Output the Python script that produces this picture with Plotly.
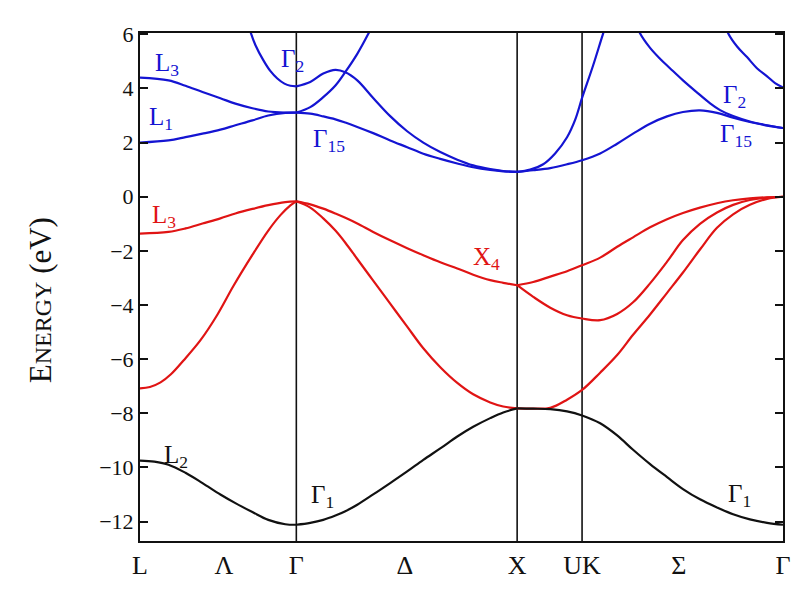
import plotly.graph_objects as go

# ---- high-symmetry points (path coordinate) ----
sym_labels = ["L", "Λ", "Γ", "Δ", "X", "UK", "Σ", "Γ"]
sym_k = [0.0, 0.38, 0.708, 1.20, 1.708, 2.002, 2.44, 2.912]
line_k = [0.708, 1.708, 2.002]   # vertical lines at Γ, X, UK

# ---- segment L -> Γ ----
k_LG = [0.0, 0.129, 0.206, 0.283, 0.364, 0.432, 0.509, 0.581, 0.658, 0.708]
LG_blue_L3 = [4.40, 4.30, 4.10, 3.87, 3.64, 3.44, 3.27, 3.15, 3.11, 3.11]
LG_blue_L1 = [2.00, 2.08, 2.20, 2.33, 2.48, 2.64, 2.82, 3.00, 3.10, 3.11]
LG_red_L3 = [-1.36, -1.30, -1.17, -0.99, -0.80, -0.62, -0.45, -0.31, -0.20, -0.17]

k_LG_L2 = [0.0, 0.065, 0.129, 0.206, 0.283, 0.364, 0.432, 0.509, 0.581, 0.658, 0.708]
LG_black_L2 = [-9.75, -9.79, -9.90, -10.20, -10.58, -11.00, -11.32, -11.65, -11.94, -12.10, -12.12]

k_LG_red_L1 = [0.0, 0.045, 0.093, 0.140, 0.197, 0.274, 0.351, 0.423, 0.509, 0.581, 0.636, 0.681, 0.708]
LG_red_L1 = [-7.08, -7.03, -6.86, -6.56, -6.05, -5.30, -4.35, -3.30, -2.15, -1.25, -0.68, -0.32, -0.17]

k_LG_G2 = [0.486, 0.500, 0.523, 0.559, 0.590, 0.622, 0.654, 0.681, 0.708]
LG_blue_G2 = [6.50, 6.10, 5.60, 5.04, 4.65, 4.37, 4.18, 4.10, 4.08]

# ---- segment Γ -> X ----
k_GX = [0.708, 0.771, 0.830, 0.885, 0.930, 0.984, 1.056, 1.133, 1.210, 1.283,
        1.360, 1.437, 1.509, 1.586, 1.645, 1.708]
GX_blue_G2 = [4.08, 4.24, 4.55, 4.69, 4.60, 4.30, 3.65, 2.98, 2.42, 2.00,
              1.65, 1.37, 1.16, 1.02, 0.95, 0.92]
GX_blue_G15 = [3.11, 3.07, 2.97, 2.86, 2.74, 2.58, 2.35, 2.08, 1.83, 1.59,
               1.40, 1.23, 1.09, 0.99, 0.94, 0.92]
GX_red_top = [-0.17, -0.28, -0.44, -0.62, -0.78, -0.99, -1.30, -1.61, -1.90, -2.16,
              -2.42, -2.65, -2.88, -3.08, -3.18, -3.27]
GX_red_mid = [-0.17, -0.40, -0.80, -1.25, -1.70, -2.30, -3.10, -3.95, -4.80, -5.60,
              -6.30, -6.88, -7.30, -7.60, -7.75, -7.82]
GX_black = [-12.12, -12.05, -11.94, -11.78, -11.62, -11.38, -11.00, -10.58, -10.15, -9.72,
            -9.30, -8.86, -8.50, -8.18, -7.97, -7.82]

k_GX_up = [0.708, 0.771, 0.830, 0.885, 0.930, 0.984, 1.034, 1.066]
GX_blue_up = [3.11, 3.31, 3.68, 4.11, 4.61, 5.28, 6.02, 6.55]

# ---- segment X -> UK -> Γ ----
k_XG = [1.708, 1.781, 1.858, 1.934, 2.002, 2.084, 2.161, 2.233, 2.310, 2.387,
        2.459, 2.536, 2.613, 2.686, 2.762, 2.840, 2.912]
XG_blue_hump = [0.92, 0.98, 1.06, 1.20, 1.35, 1.60, 1.96, 2.33, 2.70, 2.97,
                3.13, 3.19, 3.10, 2.92, 2.76, 2.63, 2.54]
XG_red_1 = [-3.27, -3.15, -2.95, -2.75, -2.53, -2.25, -1.85, -1.50, -1.13, -0.83,
            -0.60, -0.40, -0.24, -0.13, -0.06, -0.02, 0.00]
XG_red_2 = [-3.27, -3.70, -4.10, -4.38, -4.50, -4.56, -4.33, -3.90, -3.20, -2.40,
            -1.60, -1.00, -0.58, -0.30, -0.12, -0.03, 0.00]
XG_red_3 = [-7.82, -7.83, -7.80, -7.50, -7.14, -6.50, -5.85, -5.10, -4.35, -3.55,
            -2.80, -1.95, -1.15, -0.65, -0.30, -0.08, 0.00]
XG_black = [-7.82, -7.83, -7.85, -7.93, -8.08, -8.37, -8.82, -9.35, -9.88, -10.36,
            -10.80, -11.18, -11.48, -11.73, -11.92, -12.05, -12.12]

k_XG_steep = [1.708, 1.767, 1.826, 1.880, 1.934, 1.971, 2.002, 2.052, 2.097, 2.129]
XG_blue_steep = [0.92, 1.00, 1.20, 1.60, 2.20, 2.85, 3.65, 4.85, 6.02, 6.80]

k_KG_down = [2.247, 2.265, 2.310, 2.355, 2.400, 2.459, 2.523, 2.582, 2.627, 2.686,
             2.762, 2.840, 2.912]
KG_blue_down = [6.40, 6.03, 5.50, 5.10, 4.75, 4.30, 3.85, 3.45, 3.20, 2.98,
                2.78, 2.64, 2.54]

k_KG_G2 = [2.645, 2.663, 2.704, 2.749, 2.794, 2.840, 2.876, 2.912]
KG_blue_G2 = [6.50, 6.05, 5.55, 5.16, 4.75, 4.45, 4.20, 4.04]

BLUE = "#1414d2"
RED = "#e01414"
BLACK = "#111111"

bands = [
    (k_LG, LG_blue_L3, BLUE), (k_LG, LG_blue_L1, BLUE), (k_LG, LG_red_L3, RED),
    (k_LG_L2, LG_black_L2, BLACK), (k_LG_red_L1, LG_red_L1, RED), (k_LG_G2, LG_blue_G2, BLUE),
    (k_GX, GX_blue_G2, BLUE), (k_GX, GX_blue_G15, BLUE), (k_GX, GX_red_top, RED),
    (k_GX, GX_red_mid, RED), (k_GX, GX_black, BLACK), (k_GX_up, GX_blue_up, BLUE),
    (k_XG, XG_blue_hump, BLUE), (k_XG, XG_red_1, RED), (k_XG, XG_red_2, RED),
    (k_XG, XG_red_3, RED), (k_XG, XG_black, BLACK), (k_XG_steep, XG_blue_steep, BLUE),
    (k_KG_down, KG_blue_down, BLUE), (k_KG_G2, KG_blue_G2, BLUE),
]

fig = go.Figure()
for kx, ey, col in bands:
    fig.add_trace(go.Scatter(x=kx, y=ey, mode="lines",
                             line=dict(color=col, width=2.2, shape="spline", smoothing=1.0),
                             hoverinfo="skip", showlegend=False))

for kv in line_k:
    fig.add_shape(type="line", xref="x", yref="paper", x0=kv, x1=kv, y0=0, y1=1,
                  line=dict(color=BLACK, width=1.6), layer="below")

SERIF = "Liberation Serif, Times New Roman, serif"
labels = [
    ("L<sub>3</sub>", 0.12, 4.89, BLUE),
    ("L<sub>1</sub>", 0.097, 2.90, BLUE),
    ("Γ<sub>2</sub>", 0.69, 5.04, BLUE),
    ("Γ<sub>15</sub>", 0.857, 2.08, BLUE),
    ("L<sub>3</sub>", 0.107, -0.72, RED),
    ("X<sub>4</sub>", 1.568, -2.27, RED),
    ("L<sub>2</sub>", 0.161, -9.58, BLACK),
    ("Γ<sub>1</sub>", 0.826, -11.09, BLACK),
    ("Γ<sub>1</sub>", 2.717, -11.05, BLACK),
    ("Γ<sub>2</sub>", 2.694, 3.71, BLUE),
    ("Γ<sub>15</sub>", 2.70, 2.27, BLUE),
]
for txt, kx, ey, col in labels:
    fig.add_annotation(x=kx, y=ey, xref="x", yref="y", text=txt, showarrow=False,
                       font=dict(family=SERIF, size=25, color=col),
                       xanchor="center", yanchor="middle")

fig.add_annotation(x=-0.1555, y=0.474, xref="paper", yref="paper",
                   text="E<span style='font-size:24px'>NERGY</span> (eV)",
                   textangle=-90, showarrow=False,
                   font=dict(family=SERIF, size=31, color=BLACK),
                   xanchor="center", yanchor="middle")

fig.update_xaxes(range=[0, 2.912], tickvals=sym_k, ticktext=sym_labels,
                 showgrid=False, zeroline=False, showline=True, mirror=True,
                 linecolor=BLACK, linewidth=2, ticks="",
                 tickfont=dict(family=SERIF, size=26, color=BLACK))
fig.update_yaxes(range=[-12.72, 6.05], tickvals=list(range(-12, 7, 2)),
                 showgrid=False, zeroline=False, showline=True, mirror="ticks",
                 linecolor=BLACK, linewidth=2, ticks="inside", ticklen=8,
                 tickcolor=BLACK, tickwidth=1.5,
                 tickfont=dict(family=SERIF, size=22, color=BLACK))

# page body adds ~8px offset; margins compensate so plot area sits at x 140-783, y 33-541
fig.update_layout(width=800, height=591, plot_bgcolor="white", paper_bgcolor="white",
                  margin=dict(l=132, r=25, t=25, b=58), showlegend=False)

fig.write_html("out.html")
